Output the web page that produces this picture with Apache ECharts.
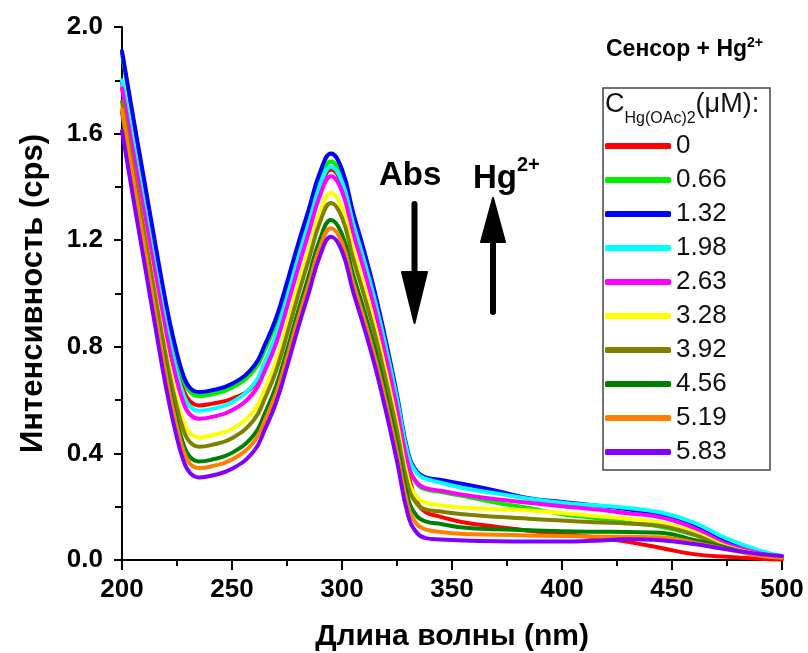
<!DOCTYPE html>
<html>
<head>
<meta charset="utf-8">
<script src="https://cdn.jsdelivr.net/npm/echarts@6/dist/echarts.min.js"></script>
<style>
  html, body { margin: 0; padding: 0; background: #fff; }
  #chart { width: 808px; height: 653px; }
</style>
</head>
<body>
<div id="chart"></div>
<script>
// Absorption spectra of the sensor with increasing Hg(OAc)2 concentration
const wavelength = [200, 205, 210, 215, 220, 224, 228, 231, 235, 240, 250, 260, 265, 270, 275, 280, 285, 290, 295, 300,
  305, 310, 315, 320, 325, 330, 334, 338, 345, 355, 370, 385, 400, 415, 430, 445, 460, 475, 490, 500];

const concLabels = ['0', '0.66', '1.32', '1.98', '2.63', '3.28', '3.92', '4.56', '5.19', '5.83'];
const lineColors = ['#ff0000', '#00ee00', '#0000ff', '#00ffff', '#ff00ff', '#ffff00', '#808000', '#008000', '#ff8000', '#8000ff'];

const abs_0 = [1.79, 1.56, 1.336, 1.112, 0.895, 0.749, 0.637, 0.595, 0.58, 0.585, 0.605, 0.655, 0.74, 0.84, 0.975, 1.12, 1.258, 1.395, 1.465, 1.41,
  1.25, 1.10, 0.95, 0.77, 0.57, 0.33, 0.22, 0.18, 0.162, 0.142, 0.125, 0.11, 0.098, 0.085, 0.068, 0.045, 0.022, 0.012, 0.005, 0.002];
const abs_066 = [1.90, 1.656, 1.418, 1.18, 0.949, 0.795, 0.675, 0.63, 0.615, 0.62, 0.646, 0.712, 0.791, 0.888, 1.02, 1.161, 1.293, 1.425, 1.495, 1.435,
  1.274, 1.126, 0.966, 0.782, 0.579, 0.36, 0.287, 0.265, 0.255, 0.24, 0.215, 0.195, 0.172, 0.158, 0.14, 0.125, 0.095, 0.055, 0.022, 0.01];
const abs_132 = [1.91, 1.667, 1.43, 1.193, 0.963, 0.809, 0.69, 0.645, 0.63, 0.635, 0.661, 0.728, 0.809, 0.907, 1.042, 1.185, 1.319, 1.455, 1.525, 1.465,
  1.306, 1.161, 1.003, 0.82, 0.62, 0.404, 0.332, 0.31, 0.30, 0.285, 0.26, 0.232, 0.218, 0.205, 0.19, 0.168, 0.125, 0.07, 0.03, 0.012];
const abs_198 = [1.80, 1.564, 1.335, 1.106, 0.882, 0.734, 0.618, 0.575, 0.56, 0.565, 0.592, 0.661, 0.743, 0.844, 0.981, 1.128, 1.265, 1.405, 1.476, 1.42,
  1.265, 1.125, 0.972, 0.797, 0.604, 0.395, 0.326, 0.305, 0.29, 0.27, 0.25, 0.23, 0.215, 0.205, 0.195, 0.178, 0.14, 0.08, 0.035, 0.015];
const abs_263 = [1.77, 1.534, 1.305, 1.076, 0.852, 0.704, 0.588, 0.545, 0.53, 0.535, 0.562, 0.63, 0.712, 0.812, 0.949, 1.094, 1.231, 1.368, 1.44, 1.384,
  1.229, 1.089, 0.937, 0.761, 0.568, 0.36, 0.291, 0.27, 0.26, 0.245, 0.228, 0.215, 0.202, 0.19, 0.175, 0.16, 0.12, 0.06, 0.025, 0.012];
const abs_328 = [1.70, 1.464, 1.235, 1.006, 0.782, 0.634, 0.518, 0.475, 0.46, 0.466, 0.492, 0.561, 0.643, 0.744, 0.882, 1.029, 1.166, 1.304, 1.377, 1.321,
  1.168, 1.028, 0.877, 0.703, 0.511, 0.304, 0.236, 0.215, 0.205, 0.197, 0.19, 0.186, 0.176, 0.165, 0.155, 0.14, 0.105, 0.05, 0.02, 0.01];
const abs_392 = [1.72, 1.474, 1.234, 0.995, 0.762, 0.606, 0.486, 0.441, 0.425, 0.43, 0.457, 0.526, 0.608, 0.709, 0.846, 0.992, 1.13, 1.268, 1.34, 1.285,
  1.133, 0.995, 0.846, 0.673, 0.483, 0.279, 0.211, 0.19, 0.182, 0.172, 0.162, 0.155, 0.148, 0.142, 0.137, 0.128, 0.095, 0.045, 0.018, 0.01];
const abs_456 = [1.68, 1.431, 1.189, 0.946, 0.711, 0.553, 0.432, 0.386, 0.37, 0.375, 0.402, 0.47, 0.551, 0.651, 0.787, 0.932, 1.068, 1.204, 1.276, 1.222,
  1.072, 0.937, 0.79, 0.62, 0.433, 0.232, 0.165, 0.145, 0.135, 0.122, 0.115, 0.112, 0.108, 0.106, 0.105, 0.102, 0.075, 0.045, 0.018, 0.008];
const abs_519 = [1.69, 1.434, 1.186, 0.937, 0.695, 0.533, 0.408, 0.361, 0.345, 0.35, 0.377, 0.444, 0.525, 0.624, 0.759, 0.903, 1.038, 1.174, 1.245, 1.191,
  1.042, 0.906, 0.759, 0.59, 0.403, 0.202, 0.135, 0.115, 0.105, 0.098, 0.095, 0.092, 0.09, 0.088, 0.087, 0.085, 0.065, 0.04, 0.016, 0.008];
const abs_583 = [1.61, 1.363, 1.123, 0.882, 0.648, 0.492, 0.371, 0.326, 0.31, 0.315, 0.342, 0.409, 0.491, 0.59, 0.725, 0.87, 1.005, 1.142, 1.213, 1.159,
  1.009, 0.874, 0.727, 0.557, 0.37, 0.169, 0.102, 0.082, 0.077, 0.073, 0.07, 0.069, 0.069, 0.072, 0.078, 0.074, 0.06, 0.04, 0.022, 0.015];

const spectra = [abs_0, abs_066, abs_132, abs_198, abs_263, abs_328, abs_392, abs_456, abs_519, abs_583];

const FONT = "'Liberation Sans', Arial, sans-serif";

const series = spectra.map((vals, i) => ({
  name: concLabels[i],
  type: 'line',
  data: wavelength.map((w, k) => [w, vals[k]]),
  smooth: 0.45,
  showSymbol: false,
  symbol: 'none',
  color: lineColors[i],
  itemStyle: { color: lineColors[i] },
  lineStyle: { width: 4, color: lineColors[i], cap: 'round', join: 'round' },
  emphasis: { disabled: true },
  animation: false
}));

const chart = echarts.init(document.getElementById('chart'), null, { renderer: 'canvas' });

chart.setOption({
  backgroundColor: '#ffffff',
  animation: false,
  grid: { left: 122, right: 26, top: 27, bottom: 93, containLabel: false, outerBoundsMode: 'none' },
  xAxis: {
    type: 'value', min: 200, max: 500, interval: 50,
    name: 'Длина волны (nm)', nameLocation: 'middle', nameGap: 62,
    nameTextStyle: { fontFamily: FONT, fontWeight: 'bold', fontSize: 30, color: '#000' },
    axisLine: { lineStyle: { color: '#000', width: 2 } },
    axisTick: { length: 10, lineStyle: { color: '#000', width: 2 } },
    minorTick: { show: true, splitNumber: 2, length: 6, lineStyle: { color: '#000', width: 2 } },
    splitLine: { show: false },
    axisLabel: { fontFamily: FONT, fontWeight: 'bold', fontSize: 26, color: '#000', margin: 17 }
  },
  yAxis: {
    type: 'value', min: 0, max: 2, interval: 0.4,
    name: 'Интенсивность (cps)', nameLocation: 'middle', nameGap: 73,
    nameTextStyle: { fontFamily: FONT, fontWeight: 'bold', fontSize: 31, color: '#000' },
    axisLine: { show: true, lineStyle: { color: '#000', width: 2 } },
    axisTick: { show: true, length: 8, lineStyle: { color: '#000', width: 2 } },
    minorTick: { show: true, splitNumber: 2, length: 7, lineStyle: { color: '#000', width: 2 } },
    splitLine: { show: false },
    axisLabel: { fontFamily: FONT, fontWeight: 'bold', fontSize: 26, color: '#000', margin: 19,
      formatter: v => v.toFixed(1) }
  },
  legend: {
    orient: 'vertical', left: 605, top: 129, padding: 0,
    itemWidth: 66, itemHeight: 6, itemGap: 0, icon: 'roundRect',
    selectedMode: false,
    data: concLabels,
    textStyle: { fontFamily: FONT, fontSize: 26, lineHeight: 34, color: '#111' }
  },
  graphic: [
    { type: 'rect', shape: { x: 603, y: 88, width: 167, height: 382 },
      style: { fill: 'none', stroke: '#444', lineWidth: 1.5 }, silent: true },
    { type: 'text', left: 605, top: 91, silent: true,
      style: { text: '{a|C}{b|Hg(OAc)2}{a|(μM):}', fill: '#111',
        rich: {
          a: { fontFamily: FONT, fontSize: 27, lineHeight: 27, verticalAlign: 'top', fill: '#111' },
          b: { fontFamily: FONT, fontSize: 16, lineHeight: 16, verticalAlign: 'top', padding: [20, 0, 0, 0], fill: '#111' }
        } } },
    { type: 'text', left: 606, top: 36, silent: true,
      style: { text: '{m|Сенсор + Hg}{s|2+}', fill: '#000',
        rich: {
          m: { fontFamily: FONT, fontWeight: 'bold', fontSize: 23, lineHeight: 28, fill: '#000' },
          s: { fontFamily: FONT, fontWeight: 'bold', fontSize: 14, verticalAlign: 'top', fill: '#000' }
        } } },
    { type: 'text', left: 379, top: 159, silent: true,
      style: { text: 'Abs', fontFamily: FONT, fontWeight: 'bold', fontSize: 33, fill: '#000' } },
    { type: 'text', left: 473, top: 155, silent: true,
      style: { text: '{m|Hg}{s|2+}', fill: '#000',
        rich: {
          m: { fontFamily: FONT, fontWeight: 'bold', fontSize: 33, lineHeight: 40, verticalAlign: 'bottom', fill: '#000' },
          s: { fontFamily: FONT, fontWeight: 'bold', fontSize: 20, verticalAlign: 'top', fill: '#000' }
        } } },
    // downward arrow
    { type: 'rect', shape: { x: 411.5, y: 201, width: 6, height: 78, r: 3 }, style: { fill: '#000' }, silent: true },
    { type: 'polygon', shape: { points: [[402, 272], [427, 272], [414.5, 323]] }, style: { fill: '#000', stroke: '#000', lineWidth: 2, lineJoin: 'round' }, silent: true },
    // upward arrow
    { type: 'rect', shape: { x: 490, y: 236, width: 6, height: 79, r: 3 }, style: { fill: '#000' }, silent: true },
    { type: 'polygon', shape: { points: [[481, 242], [505, 242], [493, 198]] }, style: { fill: '#000', stroke: '#000', lineWidth: 2, lineJoin: 'round' }, silent: true }
  ],
  series: series
});
</script>
</body>
</html>
